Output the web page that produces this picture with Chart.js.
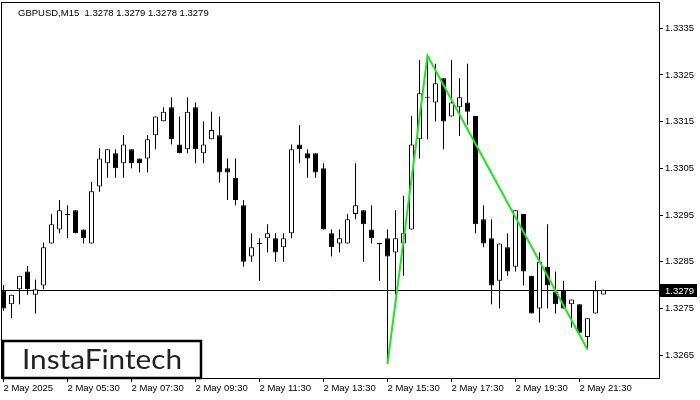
<!DOCTYPE html>
<html>
<head>
<meta charset="utf-8">
<script src="https://cdn.jsdelivr.net/npm/chart.js@4.4.1/dist/chart.umd.min.js"></script>
<style>
  html, body { margin: 0; padding: 0; background: #fff; }
  #wrap { width: 700px; height: 400px; }
</style>
</head>
<body>
<div id="wrap"><canvas id="chart" width="700" height="400"></canvas></div>
<script>
// GBPUSD M15, 2 May 2025 03:30 .. 22:15 (one entry per candle)
const opens = [
  1.32789, 1.32759, 1.32791, 1.32829, 1.32779, 1.32799, 1.32889, 1.32919, 1.32951, 1.32960,
  1.32919, 1.32889, 1.33011, 1.33061, 1.33082, 1.33061, 1.33091, 1.33071, 1.33071, 1.33121,
  1.33151, 1.33181, 1.33101, 1.33091, 1.33181, 1.33082, 1.33112, 1.33121, 1.33050, 1.33030,
  1.32971, 1.32861, 1.32889, 1.32900, 1.32900, 1.32881, 1.32911, 1.33101, 1.33082, 1.33082,
  1.33050, 1.32911, 1.32889, 1.32889, 1.32952, 1.32960, 1.32919, 1.32889, 1.32900, 1.32870,
  1.32889, 1.32919, 1.33112, 1.33202, 1.33191, 1.33243, 1.33161, 1.33181, 1.33191, 1.33162,
  1.32941, 1.32900, 1.32809, 1.32881, 1.32839, 1.32952, 1.32820, 1.32750, 1.32839, 1.32786,
  1.32789, 1.32759, 1.32759, 1.32689, 1.32739, 1.32780
];
const highs = [
  1.32800, 1.32779, 1.32820, 1.32841, 1.32812, 1.32891, 1.32952, 1.32982, 1.32971, 1.32960,
  1.32919, 1.33021, 1.33093, 1.33091, 1.33091, 1.33121, 1.33091, 1.33071, 1.33121, 1.33161,
  1.33181, 1.33202, 1.33161, 1.33202, 1.33191, 1.33151, 1.33171, 1.33161, 1.33071, 1.33071,
  1.32982, 1.32911, 1.32900, 1.32930, 1.32911, 1.32911, 1.33101, 1.33143, 1.33091, 1.33082,
  1.33061, 1.32919, 1.32919, 1.32952, 1.33061, 1.32960, 1.32971, 1.32889, 1.32919, 1.32960,
  1.32991, 1.33162, 1.33282, 1.33291, 1.33274, 1.33243, 1.33282, 1.33243, 1.33274, 1.33162,
  1.32971, 1.32941, 1.32889, 1.32911, 1.32960, 1.32952, 1.32820, 1.32870, 1.32930, 1.32829,
  1.32809, 1.32769, 1.32759, 1.32729, 1.32809, 1.32790
];
const lows = [
  1.32745, 1.32729, 1.32759, 1.32779, 1.32739, 1.32791, 1.32889, 1.32911, 1.32900, 1.32911,
  1.32889, 1.32889, 1.33000, 1.33030, 1.33030, 1.33030, 1.33050, 1.33041, 1.33041, 1.33091,
  1.33151, 1.33101, 1.33082, 1.33082, 1.33061, 1.33061, 1.33112, 1.33019, 1.32982, 1.32971,
  1.32839, 1.32850, 1.32809, 1.32870, 1.32850, 1.32850, 1.32900, 1.33061, 1.33030, 1.33030,
  1.32919, 1.32861, 1.32870, 1.32889, 1.32941, 1.32850, 1.32889, 1.32809, 1.32631, 1.32779,
  1.32820, 1.32919, 1.33071, 1.33112, 1.33150, 1.33091, 1.33161, 1.33119, 1.33143, 1.32911,
  1.32881, 1.32759, 1.32750, 1.32820, 1.32829, 1.32799, 1.32739, 1.32720, 1.32750, 1.32739,
  1.32750, 1.32709, 1.32698, 1.32662, 1.32739, 1.32780
];
const closes = [
  1.32750, 1.32779, 1.32820, 1.32791, 1.32791, 1.32881, 1.32930, 1.32960, 1.32951, 1.32911,
  1.32900, 1.33001, 1.33071, 1.33091, 1.33050, 1.33101, 1.33061, 1.33061, 1.33112, 1.33161,
  1.33171, 1.33112, 1.33082, 1.33171, 1.33091, 1.33101, 1.33132, 1.33041, 1.33041, 1.32982,
  1.32850, 1.32881, 1.32889, 1.32911, 1.32870, 1.32900, 1.33091, 1.33091, 1.33071, 1.33041,
  1.32919, 1.32881, 1.32900, 1.32941, 1.32971, 1.32930, 1.32900, 1.32889, 1.32861, 1.32900,
  1.32911, 1.33101, 1.33211, 1.33202, 1.33232, 1.33150, 1.33191, 1.33202, 1.33171, 1.32930,
  1.32889, 1.32799, 1.32889, 1.32829, 1.32960, 1.32829, 1.32739, 1.32850, 1.32799, 1.32759,
  1.32750, 1.32769, 1.32698, 1.32729, 1.32789, 1.32790
];

const tickIndex = [0, 8, 16, 24, 32, 40, 48, 56, 64, 72];
const tickLabels = ["2 May 2025", "2 May 05:30", "2 May 07:30", "2 May 09:30", "2 May 11:30",
                    "2 May 13:30", "2 May 15:30", "2 May 17:30", "2 May 19:30", "2 May 21:30"];
const priceTicks = [1.3265, 1.3275, 1.3285, 1.3295, 1.3305, 1.3315, 1.3325, 1.3335];

// pattern line (start, peak, end)
const patternIdx = [48, 53, 73];
const patternPrice = [1.32631, 1.33291, 1.32662];

const lastPrice = 1.3279;
const header = "GBPUSD,M15  1.3278 1.3279 1.3278 1.3279";

const FONT = "'Liberation Sans', Arial, sans-serif";

// build bars from the arrays
const wicks = lows.map((l, i) => ({ x: i, y: [l, highs[i]] }));
const bodies = opens.map((o, i) => {
  const c = closes[i];
  let lo = Math.min(o, c), hi = Math.max(o, c);
  if (hi - lo < 0.00002) { const m = (hi + lo) / 2; lo = m - 0.000011; hi = m + 0.000011; } // doji dash
  return { x: i, y: [lo, hi] };
});
const bodyColors = opens.map((o, i) => closes[i] >= o ? '#ffffff' : '#000000');

const mtPlugin = {
  id: 'mtPlugin',
  beforeDatasetsDraw(chart) {
    const { ctx, chartArea: a, scales: { y } } = chart;
    const py = Math.round(y.getPixelForValue(lastPrice)) + 0.5;
    ctx.save();
    ctx.strokeStyle = '#000';
    ctx.lineWidth = 1;
    ctx.beginPath();
    ctx.moveTo(a.left, py);
    ctx.lineTo(a.right, py);
    ctx.stroke();
    ctx.restore();
  },
  afterDraw(chart) {
    const { ctx, chartArea: a, scales: { y } } = chart;
    ctx.save();
    // frame
    ctx.strokeStyle = '#000';
    ctx.lineWidth = 1;
    ctx.strokeRect(Math.round(a.left) - 0.5, Math.round(a.top) - 0.5,
                   Math.round(a.right - a.left) + 1, Math.round(a.bottom - a.top) + 1);

    // header
    ctx.fillStyle = '#000';
    ctx.font = '9.5px ' + FONT;
    ctx.textBaseline = 'middle';
    ctx.textAlign = 'left';
    ctx.fillText(header, 18, 13);

    // last price label
    const py = Math.round(y.getPixelForValue(lastPrice)) + 0.5;
    ctx.fillStyle = '#000';
    ctx.fillRect(a.right + 1, py - 6.5, 37, 13);
    ctx.fillStyle = '#fff';
    ctx.fillText(lastPrice.toFixed(4), a.right + 6, py + 0.5);

    // logo
    ctx.fillStyle = '#fff';
    ctx.fillRect(3, 341, 198, 37);
    ctx.strokeStyle = '#000';
    ctx.lineWidth = 2.5;
    ctx.strokeRect(3, 341, 198, 37);
    ctx.fillStyle = '#222';
    ctx.font = '26px Lato, sans-serif';
    ctx.textBaseline = 'alphabetic';
    const w = ctx.measureText('InstaFintech').width;
    ctx.translate(22, 369);
    ctx.scale(160 / w, 1);
    ctx.fillText('InstaFintech', 0, 0);
    ctx.restore();
  }
};

new Chart(document.getElementById('chart'), {
  type: 'bar',
  data: {
    datasets: [
      {
        type: 'line',
        data: patternIdx.map((x, k) => ({ x: x, y: patternPrice[k] })),
        borderColor: '#1ee61e',
        borderWidth: 2,
        pointRadius: 0,
        tension: 0,
        order: 0
      },
      {
        data: bodies,
        backgroundColor: bodyColors,
        borderColor: '#000',
        borderWidth: 1,
        borderSkipped: false,
        barThickness: 5,
        grouped: false,
        inflateAmount: 0,
        order: 1
      },
      {
        data: wicks,
        backgroundColor: '#000',
        borderWidth: 0,
        barThickness: 1,
        grouped: false,
        inflateAmount: 0,
        order: 2
      }
    ]
  },
  options: {
    responsive: false,
    animation: false,
    devicePixelRatio: 1,
    layout: { padding: { left: 2, top: 3, right: 0, bottom: 0 } },
    plugins: { legend: { display: false }, tooltip: { enabled: false } },
    scales: {
      x: {
        type: 'linear',
        offset: false,
        min: -0.1875,
        max: 81.9375,
        afterBuildTicks: s => { s.ticks = tickIndex.map(v => ({ value: v })); },
        afterFit: s => { s.height = 22; s.paddingLeft = 0; s.paddingRight = 0; },
        grid: { offset: false, drawOnChartArea: false, tickLength: 4, color: '#000' },
        border: { display: false },
        ticks: {
          align: 'start', maxRotation: 0, autoSkip: false, padding: 1, color: '#000',
          font: { family: FONT, size: 9.5 },
          callback: (v, i) => tickLabels[i]
        }
      },
      y: {
        position: 'right',
        min: 1.32601,
        max: 1.33404,
        afterBuildTicks: s => { s.ticks = priceTicks.map(v => ({ value: v })); },
        afterFit: s => { s.width = 41; s.paddingTop = 0; s.paddingBottom = 0; },
        grid: { drawOnChartArea: false, tickLength: 4, color: '#000' },
        border: { display: false },
        ticks: {
          padding: 2, color: '#000',
          font: { family: FONT, size: 9.5 },
          callback: v => v.toFixed(4)
        }
      }
    }
  },
  plugins: [mtPlugin]
});
</script>
</body>
</html>
